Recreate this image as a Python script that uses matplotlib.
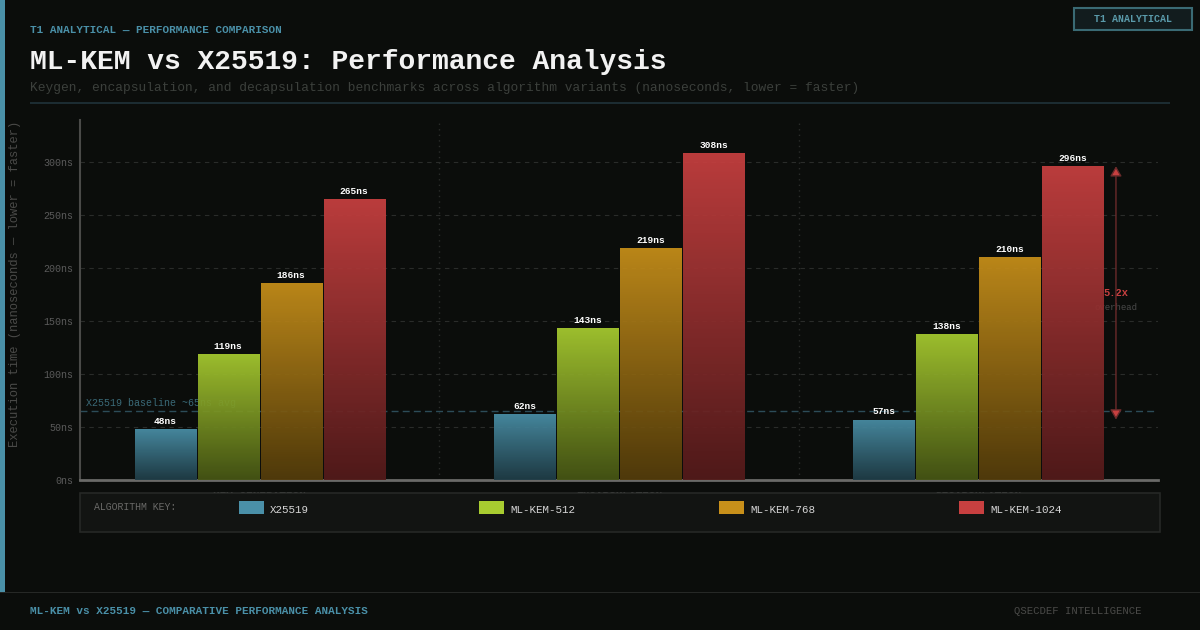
import matplotlib
matplotlib.use('Agg')
import matplotlib.pyplot as plt
import numpy as np
from matplotlib.patches import Rectangle
from matplotlib.colors import to_rgb

# ---------------- data ----------------
categories = ['KEY GENERATION', 'ENCAPSULATION', 'DECAPSULATION']
series_names = ['X25519', 'ML-KEM-512', 'ML-KEM-768', 'ML-KEM-1024']
x25519 = [48, 62, 57]
mlkem512 = [119, 143, 138]
mlkem768 = [186, 219, 210]
mlkem1024 = [265, 308, 296]
yticks = [0, 50, 100, 150, 200, 250, 300]
ytick_labels = ['0ns', '50ns', '100ns', '150ns', '200ns', '250ns', '300ns']
baseline_value = 65
baseline_label = 'X25519 baseline ~65ns avg'
overhead_label = '5.2x'

series_values = [x25519, mlkem512, mlkem768, mlkem1024]
series_colors = ['#4a90a8', '#a8cc30', '#c8901a', '#c84040']

# ---------------- style ----------------
BG = '#0b0d0b'
MONO = ['Liberation Mono', 'DejaVu Sans Mono']
W, H = 1200, 630


def px(x, y):
    return (x / W, 1 - y / H)


fig = plt.figure(figsize=(12, 6.3), dpi=100)
fig.patch.set_facecolor(BG)

ax = fig.add_axes([80 / W, 1 - 480 / H, 1078 / W, 360 / H])
ax.set_facecolor(BG)

n = len(categories)
xs = np.arange(n)
width = 0.17
pitch = 0.1753
offsets = [-1.5 * pitch, -0.5 * pitch, 0.5 * pitch, 1.5 * pitch]

YMAX = 339.6

# grid
for yv in yticks[1:]:
    ax.axhline(yv, color='#2a2c2a', lw=0.8, dashes=(4, 4), zorder=0.5)
for xv in [0.5, 1.5]:
    ax.axvline(xv, color='#2a2c2a', lw=1.0, ls=(0, (1, 3)), zorder=0.5)

# baseline
ax.axhline(baseline_value, color='#2c4c58', lw=1.0, dashes=(5, 3), zorder=1)
ax.text(-0.483, baseline_value + 7.5, baseline_label, color='#3a6a78', fontsize=7.2,
        family=MONO, ha='left', va='center', zorder=1)

# overhead annotation (behind bars)
ax.text(2.383, 176, overhead_label, color='#c84040', fontsize=7.5, family=MONO,
        fontweight='bold', ha='center', va='center', zorder=1.5)
ax.text(2.383, 163, 'overhead', color='#4a4a4a', fontsize=6.5, family=MONO,
        ha='center', va='center', zorder=1.5)
ax.annotate('', xy=(2.383, x25519[2]), xytext=(2.383, mlkem1024[2]),
            arrowprops=dict(arrowstyle='<|-|>,head_length=0.6,head_width=0.35',
                            facecolor='#c84040', edgecolor='#6a2a2a',
                            lw=1.0, mutation_scale=10, shrinkA=0, shrinkB=0), zorder=1.5)

# bars with gradient
for si, (vals, col) in enumerate(zip(series_values, series_colors)):
    bars = ax.bar(xs + offsets[si], vals, width=width, color='none', edgecolor='none', zorder=3)
    top = np.array(to_rgb(col))
    bottom = top * 0.42
    for rect, v in zip(bars, vals):
        x0 = rect.get_x()
        x1 = x0 + rect.get_width()
        t = np.linspace(0, 1, 128)[:, None]
        grad = top[None, :] * (1 - t) + bottom[None, :] * t
        img = ax.imshow(grad[:, None, :], extent=[x0, x1, 0, v], aspect='auto',
                        origin='upper', zorder=3, alpha=0.93, interpolation='bilinear')
        img.set_clip_path(rect)
        ax.text(x0 + rect.get_width() / 2, v + 3, f'{v}ns', color='white', fontsize=6.8,
                family=MONO, fontweight='bold', ha='center', va='bottom', zorder=4)

ax.set_xlim(-0.5, 2.5)
ax.set_ylim(0, YMAX)

ax.set_yticks(yticks)
ax.set_yticklabels(ytick_labels)
ax.set_xticks(xs)
ax.set_xticklabels(categories)
ax.tick_params(axis='y', length=0, pad=5, labelsize=7.2, labelcolor='#5a5a5a')
ax.tick_params(axis='x', length=0, pad=8, labelsize=8, labelcolor='#8a8a8a')
for lab in ax.get_yticklabels() + ax.get_xticklabels():
    lab.set_family(MONO)
for lab in ax.get_xticklabels():
    lab.set_fontweight('bold')

for s in ['top', 'right']:
    ax.spines[s].set_visible(False)
ax.spines['left'].set_color('#4a4a48')
ax.spines['left'].set_linewidth(1.5)
ax.spines['bottom'].set_color('#6a6a68')
ax.spines['bottom'].set_linewidth(2)

# y label
fig.text(*px(15, 284), 'Execution time (nanoseconds \u2014 lower = faster)', rotation=90,
         color='#4a4a48', fontsize=8.7, family=MONO, ha='center', va='center')

# ---------------- header ----------------
fig.add_artist(Rectangle((0, 1 - 592 / H), 5 / W, 592 / H, transform=fig.transFigure,
                         facecolor='#4a90a8', edgecolor='none', zorder=2))
fig.text(*px(30, 30), 'T1 ANALYTICAL \u2014 PERFORMANCE COMPARISON', color='#4a90a8',
         fontsize=7.9, family=MONO, fontweight='bold', ha='left', va='center')
fig.text(*px(30, 62), 'ML-KEM vs X25519: Performance Analysis', color='#f2f2f2',
         fontsize=20.2, family=MONO, fontweight='bold', ha='left', va='center')
fig.text(*px(30, 88), 'Keygen, encapsulation, and decapsulation benchmarks across algorithm variants (nanoseconds, lower = faster)',
         color='#3c403c', fontsize=9.3, family=MONO, ha='left', va='center')
fig.add_artist(Rectangle(px(30, 104), 1140 / W, 2 / H, transform=fig.transFigure,
                         facecolor='#1c2c32', edgecolor='none', zorder=2))

# badge
fig.add_artist(Rectangle(px(1074, 30), 118 / W, 22 / H, transform=fig.transFigure,
                         facecolor='#121c1e', edgecolor='#3a6a74', lw=1.5, zorder=2))
fig.text(*px(1133, 19.5), 'T1 ANALYTICAL', color='#5a9aaa', fontsize=7.2, family=MONO,
         fontweight='bold', ha='center', va='center', zorder=3)

# ---------------- legend ----------------
fig.add_artist(Rectangle(px(80, 532), 1080 / W, 39 / H, transform=fig.transFigure,
                         facecolor='#121412', edgecolor='#262826', lw=1.2, zorder=5))
fig.text(*px(94, 507), 'ALGORITHM KEY:', color='#6a6a68', fontsize=7.1, family=MONO,
         ha='left', va='center', zorder=6)
swatch_x = [239, 479, 719, 959]
for sx, name, col in zip(swatch_x, series_names, series_colors):
    fig.add_artist(Rectangle(px(sx, 514), 25 / W, 13 / H, transform=fig.transFigure,
                             facecolor=col, edgecolor='none', zorder=6))
    fig.text(*px(sx + 31, 510), name, color='#d6d6d6', fontsize=7.8, family=MONO,
             ha='left', va='center', zorder=6)

# ---------------- footer ----------------
fig.add_artist(Rectangle(px(0, 593), 1, 1.5 / H, transform=fig.transFigure,
                         facecolor='#262826', edgecolor='none', zorder=2))
fig.text(*px(30, 611), 'ML-KEM vs X25519 \u2014 COMPARATIVE PERFORMANCE ANALYSIS', color='#4a90a8',
         fontsize=7.9, family=MONO, fontweight='bold', ha='left', va='center')
fig.text(*px(1142, 611), 'QSECDEF INTELLIGENCE', color='#4a4a48', fontsize=7.7, family=MONO,
         ha='right', va='center')

fig.savefig('out.png', dpi=100, facecolor=BG)
